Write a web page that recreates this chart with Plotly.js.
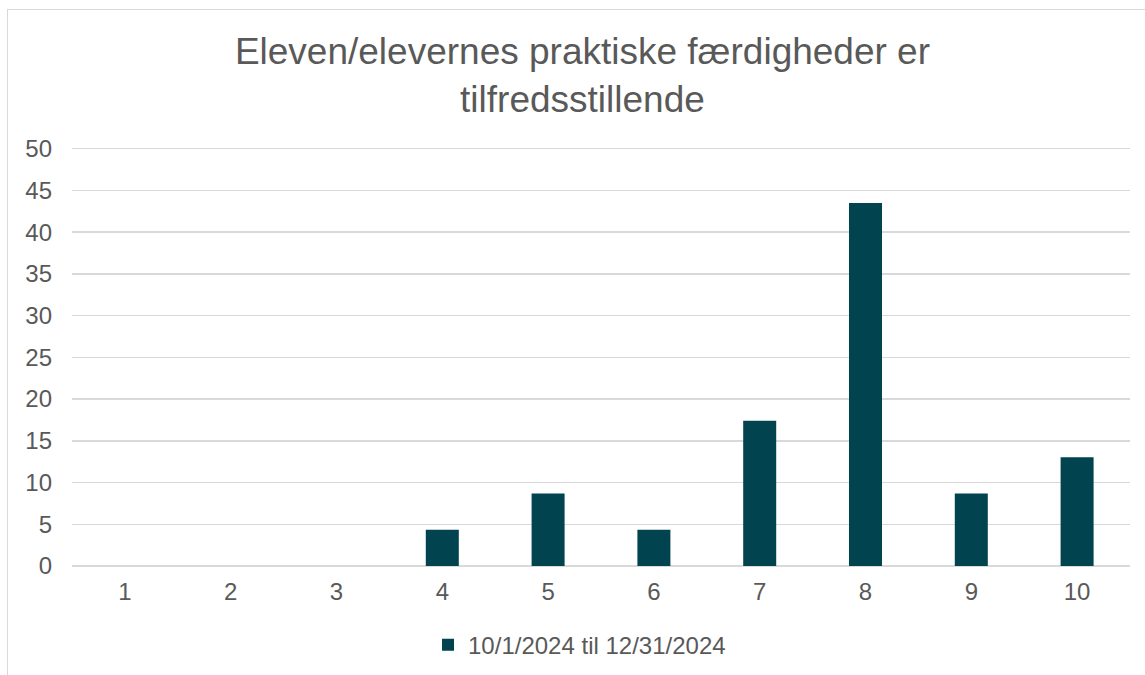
<!DOCTYPE html>
<html>
<head>
<meta charset="utf-8">
<script src="https://cdn.plot.ly/plotly-3.0.1.min.js"></script>
<style>
  html, body { margin: 0; padding: 0; background: #fff; }
  #frame { position: absolute; left: 7px; top: 9px; width: 1138px; height: 666px;
           border-left: 1px solid #d9d9d9; border-top: 1px solid #d9d9d9; box-sizing: border-box; }
  #chart { position: absolute; left: 0; top: 0; width: 1145px; height: 675px; }
</style>
</head>
<body>
<div id="frame"></div>
<div id="chart"></div>
<script>
const categories = ["1", "2", "3", "4", "5", "6", "7", "8", "9", "10"];
const values = [0, 0, 0, 4.35, 8.7, 4.35, 17.39, 43.48, 8.7, 13.04];
const seriesName = "10/1/2024 til 12/31/2024";
const yTicks = [0, 5, 10, 15, 20, 25, 30, 35, 40, 45, 50];
const titleText = "Eleven/elevernes praktiske færdigheder er<br>tilfredsstillende";

const font = "Liberation Sans, Arial, sans-serif";
const textColor = "#595959";

Plotly.newPlot("chart", [{
  type: "bar",
  x: categories,
  y: values,
  name: seriesName,
  marker: { color: "#01434f" },
  hoverinfo: "none",
  showlegend: true
}], {
  width: 1145,
  height: 675,
  paper_bgcolor: "rgba(0,0,0,0)",
  plot_bgcolor: "rgba(0,0,0,0)",
  margin: { l: 72, r: 15, t: 147, b: 109, autoexpand: false },
  bargap: 0.688,
  title: {
    text: titleText,
    font: { family: font, size: 37, color: textColor },
    x: 0.5087, xanchor: "center",
    y: 0.905, yanchor: "middle",
    yref: "container"
  },
  xaxis: {
    type: "category",
    tickfont: { family: font, size: 24, color: textColor },
    showgrid: false,
    showline: false,
    zeroline: false,
    ticks: "",
    ticklabelstandoff: 9
  },
  yaxis: {
    range: [0, 50.2],
    tickvals: yTicks,
    ticktext: yTicks.map(String),
    tickfont: { family: font, size: 24, color: textColor },
    showgrid: true,
    gridcolor: "#d9d9d9",
    gridwidth: 1.5,
    zeroline: true,
    zerolinecolor: "#d9d9d9",
    zerolinewidth: 1.5,
    showline: false,
    ticks: "",
    ticklabelstandoff: 19
  },
  legend: {
    orientation: "h",
    x: 0.4797, xanchor: "center",
    yref: "container",
    y: 0.0444, yanchor: "middle",
    font: { family: font, size: 24, color: textColor },
    itemwidth: 30
  },
  showlegend: true
}, { displayModeBar: false, staticPlot: true });
</script>
</body>
</html>
